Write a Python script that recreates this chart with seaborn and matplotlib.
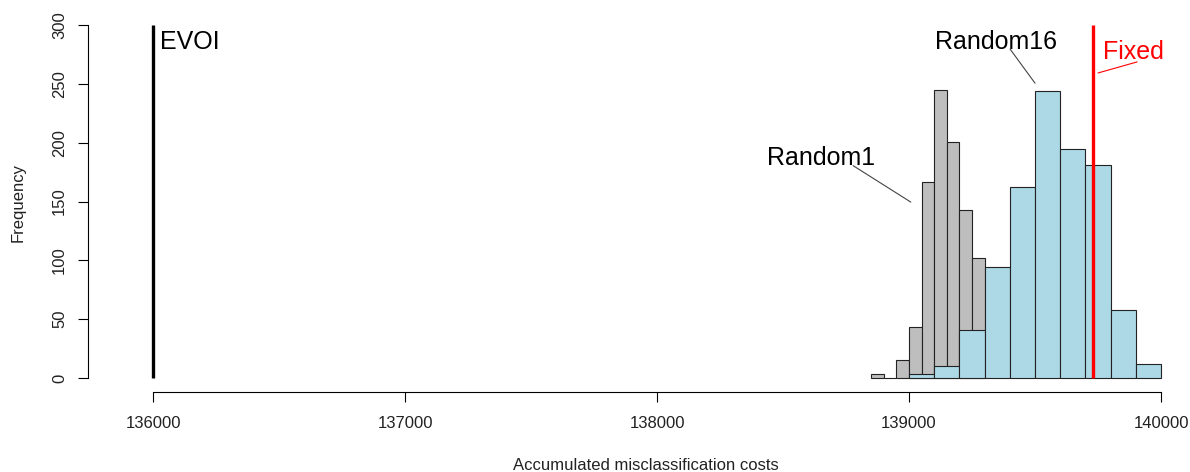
import numpy as np
import pandas as pd
import matplotlib
matplotlib.use("Agg")
import matplotlib.pyplot as plt
import seaborn as sns

# Histogram counts of accumulated misclassification costs
random1_edges = list(range(138850, 139300 + 1, 50))
random1_counts = [3, 0, 15, 43, 167, 245, 201, 143, 102]

random16_edges = list(range(139000, 140000 + 1, 100))
random16_counts = [3, 10, 41, 94, 162, 244, 195, 181, 58, 12]

# Reference strategies (single cost values)
evoi_cost = 136000
fixed_cost = 139730

x_ticks = [136000, 137000, 138000, 139000, 140000]
y_ticks = [0, 50, 100, 150, 200, 250, 300]

sns.set_style("ticks")
plt.rcParams["font.family"] = ["Liberation Sans", "DejaVu Sans"]

W, H = 1190, 472
fig = plt.figure(figsize=(W / 100, H / 100), dpi=100)
ax = fig.add_axes([88 / W, (H - 392) / H, 1098 / W, (392 - 11) / H])


def binned_frame(edges, counts):
    e = np.asarray(edges, dtype=float)
    return pd.DataFrame({"cost": (e[:-1] + e[1:]) / 2,
                         "count": np.asarray(counts, dtype=float)})


df1 = binned_frame(random1_edges, random1_counts)
df16 = binned_frame(random16_edges, random16_counts)

sns.histplot(data=df1, x="cost", weights="count", bins=random1_edges, ax=ax,
             color="#BEBEBE", edgecolor="#222222", linewidth=0.8, alpha=1)
sns.histplot(data=df16, x="cost", weights="count", bins=random16_edges, ax=ax,
             color="#ADD8E6", edgecolor="#222222", linewidth=0.8, alpha=1)

ax.vlines(evoi_cost, 0, 300, color="black", linewidth=2.4, zorder=5)
ax.vlines(fixed_cost, 0, 300, color="#FF0000", linewidth=2.4, zorder=5)

# Labels with leader lines
lab_kw = dict(fontsize=18, va="baseline", ha="left", zorder=6)
ax.text(136028, 280, "EVOI", color="black", **lab_kw)
ax.text(138435, 181, "Random1", color="black", **lab_kw)
ax.plot([138778, 139007], [180.5, 149.5], color="#444444", linewidth=0.8, zorder=6)
ax.text(139103, 280, "Random16", color="black", **lab_kw)
ax.plot([139401, 139500], [279.6, 250.6], color="#444444", linewidth=0.8, zorder=6)
ax.text(139770, 271, "Fixed", color="#FF0000", **lab_kw)
ax.plot([139750, 139905], [259.3, 268.7], color="#FF0000", linewidth=0.8, zorder=6)

ax.set_xlim(135742, 140099)
ax.set_ylim(-12, 312)
ax.set_xticks(x_ticks)
ax.set_xticklabels([str(t) for t in x_ticks])
ax.set_yticks(y_ticks)
ax.set_yticklabels([str(t) for t in y_ticks], rotation=90, va="center")

for side in ("top", "right"):
    ax.spines[side].set_visible(False)
ax.spines["left"].set_bounds(0, 300)
ax.spines["bottom"].set_bounds(136000, 140000)
for side in ("left", "bottom"):
    ax.spines[side].set_color("black")
    ax.spines[side].set_linewidth(0.8)

ax.tick_params(axis="both", direction="out", length=7, width=0.8,
               color="black", labelsize=12, labelcolor="#222222")
ax.tick_params(axis="y", pad=8)
ax.tick_params(axis="x", pad=10)

ax.set_xlabel("")
ax.set_ylabel("")
fig.text(646 / W, 1 - 465 / H, "Accumulated misclassification costs",
         ha="center", va="center", fontsize=12, color="#222222")
fig.text(18 / W, 1 - 202 / H, "Frequency", ha="center", va="center",
         rotation=90, fontsize=12, color="#222222")

fig.savefig("out.png", dpi=100)
